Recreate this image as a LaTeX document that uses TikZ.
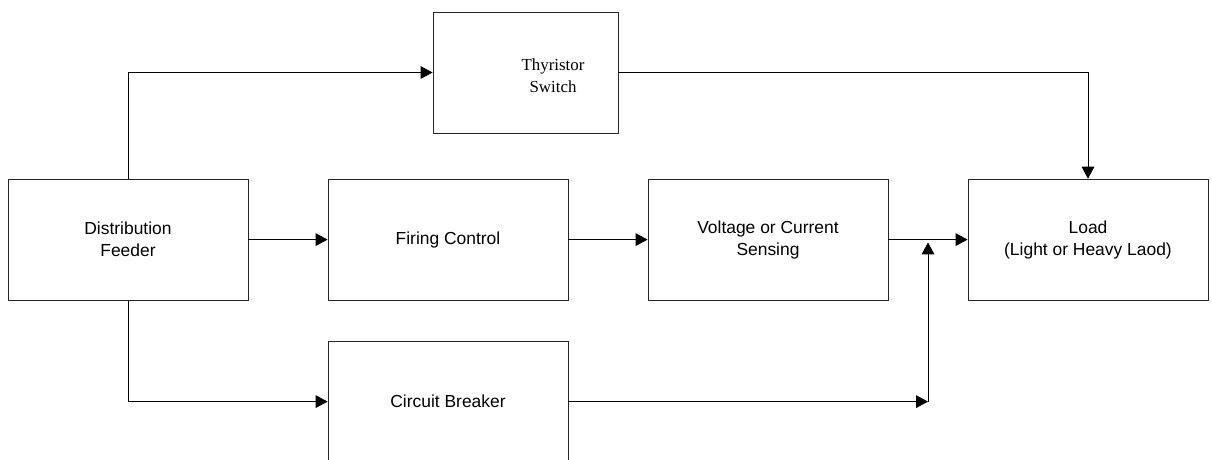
\documentclass[tikz,border=0pt]{standalone}
\usepackage{fontspec}
\setmainfont{Liberation Sans}
\newfontfamily\timesfont{Liberation Serif}
\usetikzlibrary{positioning,arrows.meta}

\begin{document}
\begin{tikzpicture}[>={Triangle[length=8.5pt,width=9pt]},line width=0.6pt,
  blk/.style={draw=black!85,minimum width=6cm,minimum height=3.025cm,align=center,inner sep=0pt,font=\fontsize{12.4}{15.6}\selectfont}]
\useasboundingbox (0,0) rectangle (30.3,-11.475);
\node[blk] (feeder) at (3.2,-5.99) {Distribution\\Feeder};
\node[blk] (firing) at (11.2,-5.99) {Firing Control};
\node[blk] (sensing) at (19.2,-5.99) {Voltage or Current\\Sensing};
\node[blk] (load) at (27.2,-5.99) {Load\\(Light or Heavy Laod)};
\node[blk,minimum width=4.625cm] (thyristor) at (13.1375,-1.8125) {};
\node[align=center,font=\timesfont\fontsize{12}{15.6}\selectfont] (thylabel) at (13.825,-1.9) {Thyristor\\Switch};
\node[blk] (breaker) at (11.2,-10.04) {Circuit Breaker};
\coordinate (join) at (23.2,-10.04);
\coordinate (tap) at (23.2,-5.99);
% connections
\draw[->] (feeder) -- (firing);
\draw[->] (firing) -- (sensing);
\draw[->] (sensing) -- (load);
\draw[->] (feeder.north) |- (thyristor.west);
\draw[->] (thyristor.east) -| (load.north);
\draw[->] (feeder.south) |- (breaker.west);
\draw[->] (breaker.east) -- (join);
\draw[->,shorten >=2pt] (join) -- (tap);
\end{tikzpicture}
\end{document}
